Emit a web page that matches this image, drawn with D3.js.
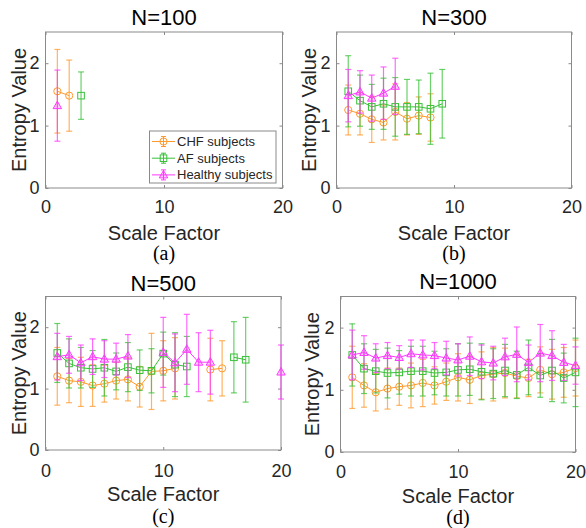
<!DOCTYPE html>
<html>
<head>
<meta charset="utf-8">
<script src="https://cdn.jsdelivr.net/npm/d3@7"></script>
<style>
  body { margin: 0; background: #fff; }
  svg { font-family: 'Liberation Sans', Arial, sans-serif; }
</style>
</head>
<body>
<svg width="586" height="528"></svg>
<script>
/* global d3 */
const xTicks = [0, 10, 20]
const yTicks = [0, 1, 2]
const seriesNames = ['CHF subjects', 'AF subjects', 'Healthy subjects']

// N=100
const chf100 = [1.55, 1.48]
const chf100Err = [0.67, 0.57]
const af100 = [null, null, 1.48]
const af100Err = [null, null, 0.38]
const hl100 = [1.32]
const hl100Err = [0.57]

// N=300
const chf300 = [1.25, 1.19, 1.10, 1.05, 1.22, 1.11, 1.16, 1.13]
const chf300Err = [0.40, 0.34, 0.37, 0.28, 0.45, 0.26, 0.30, 0.38]
const af300 = [1.55, 1.40, 1.30, 1.35, 1.30, 1.30, 1.30, 1.27, 1.35]
const af300Err = [0.57, 0.41, 0.36, 0.41, 0.47, 0.44, 0.43, 0.57, 0.55]
const hl300 = [1.48, 1.54, 1.44, 1.52, 1.63]
const hl300Err = [0.42, 0.34, 0.37, 0.42, 0.45]

// N=500
const chf500 = [1.20, 1.13, 1.11, 1.05, 1.08, 1.13, 1.15, 1.03, 1.28, 1.29, 1.33, null, null, 1.31, 1.33]
const chf500Err = [0.47, 0.36, 0.40, 0.34, 0.30, 0.30, 0.35, 0.33, 0.62, 0.49, 0.50, null, null, 0.51, 0.45]
const af500 = [1.58, 1.41, 1.34, 1.32, 1.34, 1.28, 1.35, 1.30, 1.29, 1.57, 1.39, 1.36, null, null, null, 1.51, 1.47]
const af500Err = [0.48, 0.40, 0.33, 0.30, 0.46, 0.30, 0.40, 0.33, 0.36, 0.35, 0.52, 0.49, null, null, null, 0.58, 0.69]
const hl500 = [1.52, 1.55, 1.42, 1.52, 1.48, 1.48, 1.53, null, null, 1.59, 1.42, 1.64, 1.43, 1.43, null, null, null, null, null, 1.27]
const hl500Err = [0.38, 0.30, 0.29, 0.29, 0.30, 0.26, 0.35, null, null, 0.57, 0.47, 0.57, 0.48, 0.52, null, null, null, null, null, 0.44]

// N=1000
const chf1000 = [1.20, 1.07, 0.96, 1.02, 1.05, 1.07, 1.11, 1.07, 1.13, 1.20, 1.16, 1.23, 1.25, 1.27, 1.22, 1.19, 1.32, 1.25, 1.28, 1.35]
const chf1000Err = [0.50, 0.35, 0.30, 0.33, 0.30, 0.36, 0.38, 0.30, 0.30, 0.38, 0.38, 0.38, 0.43, 0.40, 0.35, 0.30, 0.37, 0.40, 0.40, 0.45]
const af1000 = [1.56, 1.34, 1.30, 1.27, 1.28, 1.30, 1.30, 1.27, 1.28, 1.32, 1.33, 1.29, 1.26, 1.31, 1.24, 1.36, 1.23, 1.31, 1.19, 1.28]
const af1000Err = [0.50, 0.40, 0.35, 0.40, 0.35, 0.40, 0.40, 0.35, 0.38, 0.42, 0.42, 0.45, 0.40, 0.42, 0.38, 0.44, 0.35, 0.50, 0.40, 0.55]
const hl1000 = [1.56, 1.60, 1.51, 1.55, 1.52, 1.58, 1.56, 1.55, 1.51, 1.48, 1.54, 1.45, 1.43, 1.53, 1.57, 1.44, 1.59, 1.55, 1.44, 1.39]
const hl1000Err = [0.40, 0.27, 0.23, 0.21, 0.19, 0.22, 0.24, 0.21, 0.27, 0.26, 0.31, 0.27, 0.27, 0.30, 0.44, 0.28, 0.46, 0.40, 0.29, 0.30]

const colors = ['#ff9a2e', '#38c238', '#ff38ff']
const markers = ['circle', 'square', 'triangle']

const panels = [
  { title: 'N=100', tag: '(a)', box: { l: 45.5, r: 282.5, t: 32, b: 188 }, label: { tick: 213, axis: 240, tag: 260, title: 25, ylab: 26 },
    series: [[chf100, chf100Err], [af100, af100Err], [hl100, hl100Err]], legend: true },
  { title: 'N=300', tag: '(b)', box: { l: 336.5, r: 571.5, t: 32, b: 188 }, label: { tick: 213, axis: 240, tag: 260, title: 25, ylab: 316 },
    series: [[chf300, chf300Err], [af300, af300Err], [hl300, hl300Err]] },
  { title: 'N=500', tag: '(c)', box: { l: 45.5, r: 281, t: 296.5, b: 450 }, label: { tick: 477, axis: 501, tag: 523, title: 291, ylab: 26 },
    series: [[chf500, chf500Err], [af500, af500Err], [hl500, hl500Err]] },
  { title: 'N=1000', tag: '(d)', box: { l: 340.5, r: 575.5, t: 296.5, b: 452 }, label: { tick: 478, axis: 503, tag: 524, title: 289, ylab: 319 },
    series: [[chf1000, chf1000Err], [af1000, af1000Err], [hl1000, hl1000Err]] }
]

const svg = d3.select('svg')

const drawMarker = (g, type, x, y, color) => {
  if (type === 'circle') {
    g.append('circle').attr('cx', x).attr('cy', y).attr('r', 3.6)
      .attr('fill', 'none').attr('stroke', color).attr('stroke-width', 1)
  } else if (type === 'square') {
    g.append('rect').attr('x', x - 3.3).attr('y', y - 3.3).attr('width', 6.6).attr('height', 6.6)
      .attr('fill', 'none').attr('stroke', color).attr('stroke-width', 1)
  } else {
    g.append('path').attr('d', `M${x},${y - 4.5}L${x + 4.2},${y + 3}L${x - 4.2},${y + 3}Z`)
      .attr('fill', color).attr('fill-opacity', 0.25).attr('stroke', color).attr('stroke-width', 1)
  }
}

panels.forEach(p => {
  const { box, label } = p
  const x = d3.scaleLinear().domain([0, 20]).range([box.l, box.r])
  const y = d3.scaleLinear().domain([0, 2.5]).range([box.b, box.t])
  const g = svg.append('g')
  const cx = (box.l + box.r) / 2

  /** Axes box */
  g.append('rect').attr('x', box.l).attr('y', box.t)
    .attr('width', box.r - box.l).attr('height', box.b - box.t)
    .attr('fill', '#fff').attr('stroke', '#8a8a8a').attr('stroke-width', 1)

  /** Axes with inward ticks */
  const axisStyle = sel => {
    sel.select('.domain').remove()
    sel.selectAll('line').attr('stroke', '#8a8a8a')
    sel.selectAll('text').attr('fill', '#262626').attr('font-size', 18)
      .attr('font-family', "'Liberation Sans', Arial, sans-serif")
  }
  g.append('g').attr('transform', `translate(0,${box.b})`)
    .call(d3.axisBottom(x).tickValues(xTicks).tickSize(-3).tickPadding(8).tickFormat(d3.format('d')))
    .call(axisStyle)
    .selectAll('text').attr('y', null).attr('dy', null)
    .attr('transform', `translate(0,${label.tick - box.b})`)
  g.append('g').attr('transform', `translate(0,${box.t})`)
    .call(d3.axisTop(x).tickValues(xTicks).tickSize(-3).tickFormat(''))
    .call(axisStyle)
  g.append('g').attr('transform', `translate(${box.l},0)`)
    .call(d3.axisLeft(y).tickValues(yTicks).tickSize(-3).tickPadding(6).tickFormat(d3.format('d')))
    .call(axisStyle)
  g.append('g').attr('transform', `translate(${box.r},0)`)
    .call(d3.axisRight(y).tickValues(yTicks).tickSize(-3).tickFormat(''))
    .call(axisStyle)

  /** Series: line, error bars, markers */
  p.series.forEach(([vals, errs], si) => {
    const color = colors[si]
    const pts = d3.range(20).map(i => ({ s: i + 1, v: vals[i] == null ? null : vals[i], e: errs[i] == null ? 0 : errs[i] }))
    const line = d3.line().defined(d => d.v !== null).x(d => x(d.s)).y(d => y(d.v))
    g.append('path').datum(pts).attr('d', line)
      .attr('fill', 'none').attr('stroke', color).attr('stroke-width', 1)
    const valid = pts.filter(d => d.v !== null)
    const eb = g.append('g').attr('stroke', color).attr('stroke-width', 1.2).attr('stroke-opacity', 0.75)
    valid.forEach(d => {
      const xs = x(d.s)
      const y0 = y(d.v - d.e)
      const y1 = y(d.v + d.e)
      eb.append('line').attr('x1', xs).attr('x2', xs).attr('y1', y0).attr('y2', y1)
      eb.append('line').attr('x1', xs - 3).attr('x2', xs + 3).attr('y1', y0).attr('y2', y0)
      eb.append('line').attr('x1', xs - 3).attr('x2', xs + 3).attr('y1', y1).attr('y2', y1)
    })
    valid.forEach(d => drawMarker(g, markers[si], x(d.s), y(d.v), color))
  })

  /** Texts */
  g.append('text').attr('x', cx).attr('y', label.title).attr('text-anchor', 'middle')
    .attr('font-size', 22).attr('fill', '#000').text(p.title)
  g.append('text').attr('x', cx).attr('y', label.axis).attr('text-anchor', 'middle')
    .attr('font-size', 20).attr('fill', '#262626').text('Scale Factor')
  g.append('text').attr('transform', `translate(${label.ylab},${(box.t + box.b) / 2}) rotate(-90)`)
    .attr('text-anchor', 'middle').attr('font-size', 20).attr('fill', '#262626').text('Entropy Value')
  g.append('text').attr('x', cx).attr('y', label.tag).attr('text-anchor', 'middle')
    .attr('font-family', "'Liberation Serif', 'Times New Roman', serif")
    .attr('font-size', 20).attr('fill', '#000').text(p.tag)

  /** Legend */
  if (p.legend) {
    const lg = g.append('g')
    lg.append('rect').attr('x', 149.5).attr('y', 131).attr('width', 126.5).attr('height', 52)
      .attr('fill', '#fff').attr('stroke', '#8a8a8a').attr('stroke-width', 1)
    seriesNames.forEach((name, i) => {
      const ly = 141.5 + i * 16.7
      const color = colors[i]
      lg.append('line').attr('x1', 152).attr('x2', 175).attr('y1', ly).attr('y2', ly)
        .attr('stroke', color).attr('stroke-width', 1)
      lg.append('line').attr('x1', 163.5).attr('x2', 163.5).attr('y1', ly - 5).attr('y2', ly + 5)
        .attr('stroke', color).attr('stroke-width', 1)
      ;[ly - 5, ly + 5].forEach(cy => lg.append('line').attr('x1', 161).attr('x2', 166)
        .attr('y1', cy).attr('y2', cy).attr('stroke', color).attr('stroke-width', 1))
      drawMarker(lg, markers[i], 163.5, ly, color)
      lg.append('text').attr('x', 177).attr('y', ly + 4.5).attr('font-size', 13)
        .attr('fill', '#262626').text(name)
    })
  }
})
</script>
</body>
</html>
